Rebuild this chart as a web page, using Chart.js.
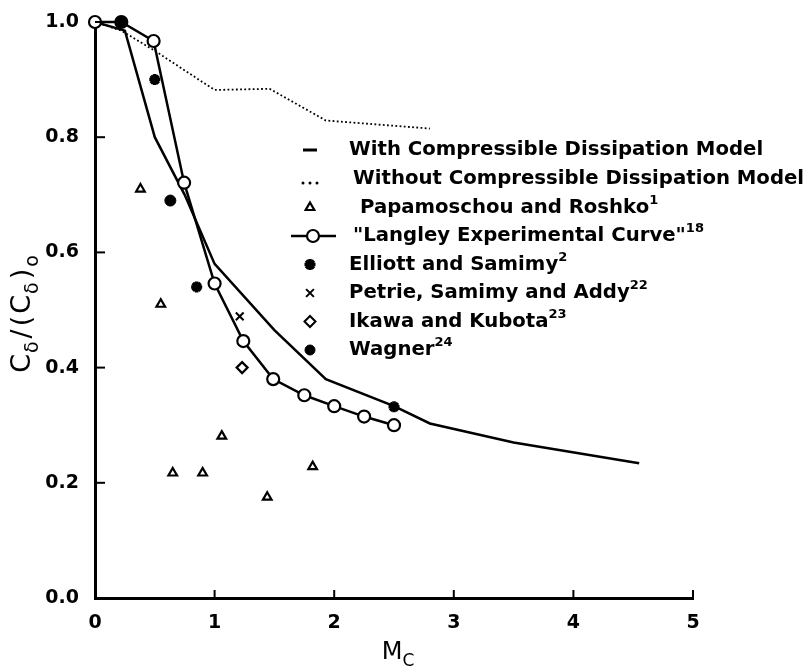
<!DOCTYPE html>
<html>
<head>
<meta charset="utf-8">
<script src="https://cdn.jsdelivr.net/npm/chart.js@4.4.0/dist/chart.umd.min.js"></script>
<style>
  html, body { margin: 0; padding: 0; background: #fff; }
</style>
</head>
<body>
<canvas id="growthChart" width="807" height="669"></canvas>
<script>
// convective Mach number vs. normalised growth rate
const withModelMc = [0, 0.25, 0.5, 0.75, 1.0, 1.5, 1.93, 2.5, 2.8, 3.5, 4.55];
const withModelRatio = [1.0, 0.985, 0.80, 0.70, 0.58, 0.465, 0.38, 0.333, 0.303, 0.27, 0.234];

const withoutModelMc = [0, 0.22, 0.5, 1.0, 1.46, 1.93, 2.8];
const withoutModelRatio = [1.0, 0.985, 0.95, 0.882, 0.884, 0.829, 0.815];

const langleyMc = [0, 0.22, 0.49, 0.745, 1.0, 1.24, 1.49, 1.75, 2.0, 2.25, 2.5];
const langleyRatio = [1.0, 1.0, 0.967, 0.721, 0.546, 0.446, 0.38, 0.352, 0.333, 0.315, 0.30];

const papamoschouMc = [0.38, 0.55, 0.65, 0.90, 1.06, 1.44, 1.82];
const papamoschouRatio = [0.71, 0.51, 0.217, 0.217, 0.281, 0.175, 0.228];

const elliottMc = [0.50, 0.85, 2.5];
const elliottRatio = [0.90, 0.54, 0.332];

const petrieMc = [1.21];
const petrieRatio = [0.489];

const ikawaMc = [1.23];
const ikawaRatio = [0.40];

const wagnerMc = [0.22, 0.63];
const wagnerRatio = [1.0, 0.69];

const xTicks = [0, 1, 2, 3, 4, 5];
const yTicks = [0, 0.2, 0.4, 0.6, 0.8, 1.0];

// legend rows: [label, superscript]
const legendRows = [
  ['With Compressible Dissipation Model', ''],
  ['Without Compressible Dissipation Model', ''],
  ['Papamoschou and Roshko', '1'],
  ['"Langley Experimental Curve"', '18'],
  ['Elliott and Samimy', '2'],
  ['Petrie, Samimy and Addy', '22'],
  ['Ikawa and Kubota', '23'],
  ['Wagner', '24'],
];

function pts(xs, ys) {
  return xs.map((x, i) => ({ x: x, y: ys[i] }));
}

const FONT = '"DejaVu Sans", sans-serif';
const INK = '#000';

function marker(style, radius, width, fill) {
  return {
    showLine: false,
    pointStyle: style,
    pointRadius: radius,
    pointHoverRadius: radius,
    pointBorderWidth: width,
    pointBorderColor: INK,
    pointBackgroundColor: fill,
    clip: false,
  };
}

// text with a raised or lowered part
function drawRich(ctx, x, y, parts) {
  let cx = x;
  parts.forEach(p => {
    ctx.font = p.font;
    ctx.fillText(p.text, cx, y + (p.dy || 0));
    cx += ctx.measureText(p.text).width + (p.gap || 0);
  });
  return cx - x;
}

function richWidth(ctx, parts) {
  let w = 0;
  parts.forEach(p => {
    ctx.font = p.font;
    w += ctx.measureText(p.text).width + (p.gap || 0);
  });
  return w;
}

const figureText = {
  id: 'figureText',
  afterDraw(chart) {
    const ctx = chart.ctx;
    const xs = chart.scales.x;
    const ys = chart.scales.y;
    const area = chart.chartArea;
    ctx.save();
    ctx.strokeStyle = INK;
    ctx.fillStyle = INK;

    // inward tick marks
    ctx.lineWidth = 2;
    yTicks.slice(1).forEach(v => {
      const py = ys.getPixelForValue(v);
      ctx.beginPath();
      ctx.moveTo(area.left, py);
      ctx.lineTo(area.left + 10, py);
      ctx.stroke();
    });
    xTicks.slice(1).forEach(v => {
      const px = xs.getPixelForValue(v);
      ctx.beginPath();
      ctx.moveTo(px, area.bottom);
      ctx.lineTo(px, area.bottom - 8);
      ctx.stroke();
    });

    // x axis title: M_C
    ctx.textBaseline = 'alphabetic';
    ctx.textAlign = 'left';
    const xTitle = [
      { text: 'M', font: '24px ' + FONT },
      { text: 'C', font: '17px ' + FONT, dy: 7 },
    ];
    const xMid = (area.left + area.right) / 2;
    drawRich(ctx, xMid - richWidth(ctx, xTitle) / 2 + 4, 659, xTitle);

    // y axis title: C_δ/(C_δ)_o
    const big = '27px ' + FONT;
    const small = '19px ' + FONT;
    const yTitle = [
      { text: 'C', font: big, gap: 1 },
      { text: 'δ', font: small, dy: 8, gap: 3 },
      { text: '/', font: big, gap: 3 },
      { text: '(', font: big, gap: 2 },
      { text: 'C', font: big, gap: 1 },
      { text: 'δ', font: small, dy: 8, gap: 3 },
      { text: ')', font: big, gap: 2 },
      { text: 'o', font: small, dy: 8 },
    ];
    ctx.save();
    ctx.translate(30, 314);
    ctx.rotate(-Math.PI / 2);
    drawRich(ctx, -richWidth(ctx, yTitle) / 2, 0, yTitle);
    ctx.restore();

    // legend
    const rowY = [150, 179, 207.5, 236, 264.5, 293, 321.5, 350];
    const textX = [349, 353, 360, 353, 349, 349, 349, 349];
    const symX = 310;
    const legFont = 'bold 19.7px ' + FONT;
    const supFont = 'bold 13px ' + FONT;
    ctx.textBaseline = 'middle';
    legendRows.forEach((row, i) => {
      const parts = [{ text: row[0], font: legFont }];
      if (row[1]) parts.push({ text: row[1], font: supFont, dy: -7 });
      drawRich(ctx, textX[i], rowY[i], parts);
    });

    const H = Chart.helpers;
    const y = rowY;
    ctx.lineWidth = 3;
    ctx.beginPath();
    ctx.moveTo(symX - 7, y[0]);
    ctx.lineTo(symX + 7, y[0]);
    ctx.stroke();
    [-7, 0, 7].forEach(d => {
      ctx.beginPath();
      ctx.arc(symX + d, y[1] + 4, 1.5, 0, Math.PI * 2);
      ctx.fill();
    });
    ctx.lineWidth = 2.2;
    ctx.fillStyle = '#fff';
    H.drawPoint(ctx, { pointStyle: 'triangle', radius: 5, borderWidth: 2.2 }, symX, y[2]);
    ctx.lineWidth = 2.5;
    ctx.beginPath();
    ctx.moveTo(symX - 19, y[3]);
    ctx.lineTo(symX + 26, y[3]);
    ctx.stroke();
    ctx.lineWidth = 2.2;
    H.drawPoint(ctx, { pointStyle: 'circle', radius: 6, borderWidth: 2.2 }, symX + 3, y[3]);
    ctx.fillStyle = INK;
    ctx.lineWidth = 3.5;
    H.drawPoint(ctx, { pointStyle: 'star', radius: 5.5, borderWidth: 3.5 }, symX, y[4]);
    ctx.lineWidth = 2;
    H.drawPoint(ctx, { pointStyle: 'crossRot', radius: 5.5, borderWidth: 2 }, symX, y[5]);
    ctx.fillStyle = '#fff';
    H.drawPoint(ctx, { pointStyle: 'rectRot', radius: 5.5, borderWidth: 2.2 }, symX, y[6]);
    ctx.fillStyle = INK;
    ctx.lineWidth = 1;
    H.drawPoint(ctx, { pointStyle: 'circle', radius: 5, borderWidth: 1 }, symX, y[7]);

    ctx.restore();
  }
};

const tickFont = { family: FONT, size: 19, weight: 'bold' };

new Chart(document.getElementById('growthChart'), {
  type: 'scatter',
  data: {
    datasets: [
      Object.assign({ label: 'Wagner', data: pts(wagnerMc, wagnerRatio), order: 1 },
        marker('circle', 5.5, 1, INK)),
      Object.assign({ label: 'Elliott and Samimy', data: pts(elliottMc, elliottRatio), order: 2 },
        marker('star', 5.5, 3.5, INK)),
      Object.assign({ label: 'Petrie, Samimy and Addy', data: pts(petrieMc, petrieRatio), order: 3 },
        marker('crossRot', 5.5, 2, INK)),
      Object.assign({ label: 'Ikawa and Kubota', data: pts(ikawaMc, ikawaRatio), order: 4 },
        marker('rectRot', 5.5, 2.2, '#fff')),
      Object.assign({ label: 'Papamoschou and Roshko', data: pts(papamoschouMc, papamoschouRatio), order: 5 },
        marker('triangle', 5, 2.2, '#fff')),
      Object.assign({
        label: 'Langley Experimental Curve',
        data: pts(langleyMc, langleyRatio),
        order: 6,
        borderColor: INK,
        borderWidth: 2.5,
      }, marker('circle', 6, 2.2, '#fff'), { showLine: true }),
      {
        label: 'With Compressible Dissipation Model',
        data: pts(withModelMc, withModelRatio),
        order: 7,
        showLine: true,
        borderColor: INK,
        borderWidth: 2.5,
        pointRadius: 0,
        clip: false,
      },
      {
        label: 'Without Compressible Dissipation Model',
        data: pts(withoutModelMc, withoutModelRatio),
        order: 8,
        showLine: true,
        borderColor: INK,
        borderWidth: 1.8,
        borderDash: [1.8, 2.4],
        pointRadius: 0,
        clip: false,
      },
    ],
  },
  options: {
    responsive: false,
    animation: false,
    layout: { padding: { top: 22, right: 114, bottom: 0, left: 0 } },
    plugins: {
      legend: { display: false },
      tooltip: { enabled: false },
    },
    scales: {
      x: {
        type: 'linear',
        min: 0,
        max: 5,
        afterBuildTicks: s => { s.ticks = xTicks.map(v => ({ value: v })); },
        afterFit: s => { s.height = 71; },
        grid: { display: false },
        border: { display: true, color: INK, width: 3 },
        ticks: { color: INK, font: tickFont, padding: 6, callback: v => String(v) },
      },
      y: {
        type: 'linear',
        min: 0,
        max: 1,
        afterBuildTicks: s => { s.ticks = yTicks.map(v => ({ value: v })); },
        afterFit: s => { s.width = 95; },
        grid: { display: false },
        border: { display: true, color: INK, width: 3 },
        ticks: { color: INK, font: tickFont, padding: 8, callback: v => v.toFixed(1) },
      },
    },
  },
  plugins: [figureText],
});
</script>
</body>
</html>
